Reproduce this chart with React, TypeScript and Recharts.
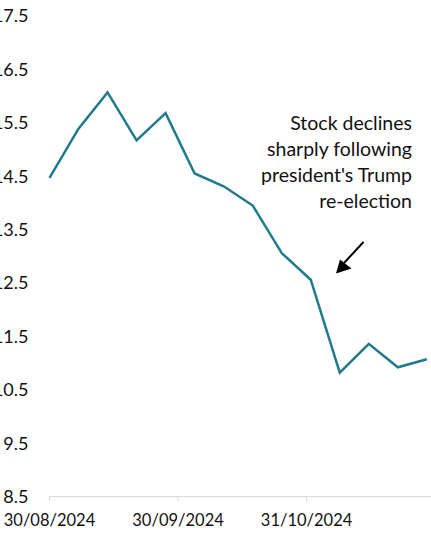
import { LineChart, Line, XAxis, YAxis } from "recharts"

const dates = [
  "2024-08-30", "2024-09-06", "2024-09-13", "2024-09-20", "2024-09-27",
  "2024-10-04", "2024-10-11", "2024-10-18", "2024-10-25", "2024-11-01",
  "2024-11-08", "2024-11-15", "2024-11-22", "2024-11-29",
]
const prices = [14.47, 15.39, 16.07, 15.17, 15.68, 14.55, 14.31, 13.95, 13.06, 12.56, 10.82, 11.36, 10.92, 11.07]
const xTicks = ["2024-08-30", "2024-09-30", "2024-10-31"]
const yTicks = [8.5, 9.5, 10.5, 11.5, 12.5, 13.5, 14.5, 15.5, 16.5, 17.5]
const xEnd = "2024-11-30"
const note = ["Stock declines", "sharply following", "president's Trump", "re-election"]

const ts = (d: string) => Date.parse(d + "T00:00:00Z")
const data = dates.map((d, i) => ({ t: ts(d), price: prices[i] }))

const fmt = (v: number) => {
  const d = new Date(v)
  const dd = String(d.getUTCDate()).padStart(2, "0")
  const mm = String(d.getUTCMonth() + 1).padStart(2, "0")
  return `${dd}/${mm}/${d.getUTCFullYear()}`
}

const font = "Lato, 'Open Sans', sans-serif"

export default function App() {
  return (
    <div style={{ position: "absolute", left: 0, top: 0, width: 431, height: 536, overflow: "hidden", background: "#fff", fontFamily: font }}>
      <LineChart width={431} height={536} data={data} margin={{ top: 16, right: 0, bottom: 0, left: 0 }}>
        <XAxis
          dataKey="t"
          type="number"
          scale="time"
          domain={[ts(dates[0]), ts(xEnd)]}
          ticks={xTicks.map(ts)}
          tickFormatter={fmt}
          height={39.5}
          stroke="#d9d9d9"
          tickSize={5}
          tickMargin={13}
          tick={{ fill: "#111", fontSize: 16.5, fontFamily: font }}
        />
        <YAxis
          domain={[8.5, 17.5]}
          ticks={yTicks}
          width={49.5}
          axisLine={false}
          tickLine={false}
          tickSize={0}
          tickMargin={21}
          tickFormatter={(v: number) => v.toFixed(1)}
          tick={{ fill: "#111", fontSize: 18, fontFamily: font }}
        />
        <Line
          type="linear"
          dataKey="price"
          stroke="#1f7a8c"
          strokeWidth={2.5}
          dot={false}
          isAnimationActive={false}
        />
      </LineChart>
      <svg width={431} height={536} style={{ position: "absolute", left: 0, top: 0, pointerEvents: "none" }}>
        {note.map((s, i) => (
          <text key={s} x={412} y={129.5 + i * 26} textAnchor="end" fontSize={19.5} fill="#111" fontFamily={font}>
            {s}
          </text>
        ))}
        <line x1={363.5} y1={242} x2={344} y2={263} stroke="#000" strokeWidth={2} />
        <polygon points="336,273.5 340,259.5 351.5,268.5" fill="#000" />
      </svg>
    </div>
  )
}
